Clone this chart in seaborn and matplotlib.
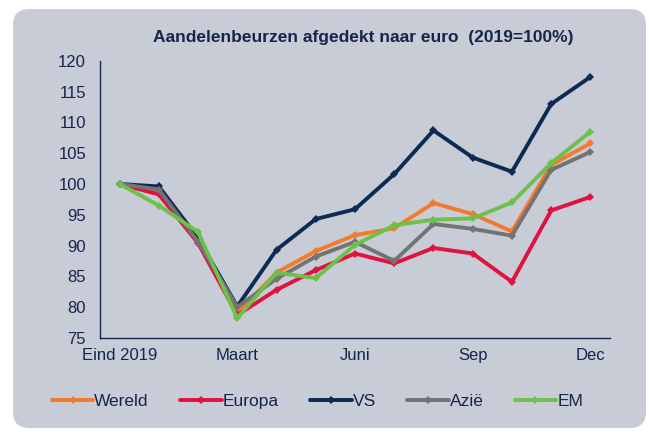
import pandas as pd
import numpy as np
import seaborn as sns
import matplotlib.pyplot as plt
from matplotlib.patches import FancyBboxPatch
from matplotlib.transforms import IdentityTransform

# data (end 2019 = 100)
months = list(range(13))
tick_pos = [0, 3, 6, 9, 12]
tick_labels = ['Eind 2019', 'Maart', 'Juni', 'Sep', 'Dec']

wereld = [100, 98.8, 91.0, 79.0, 85.6, 89.1, 91.7, 92.8, 96.9, 95.1, 92.3, 103.1, 106.6]
europa = [100, 98.3, 90.4, 78.7, 82.8, 86.0, 88.7, 87.1, 89.6, 88.7, 84.1, 95.7, 97.9]
vs = [100, 99.6, 91.2, 80.1, 89.3, 94.3, 95.9, 101.6, 108.7, 104.3, 102.0, 113.0, 117.4]
azie = [100, 99.1, 90.6, 80.0, 84.6, 88.2, 90.6, 87.5, 93.5, 92.7, 91.6, 102.3, 105.2]
em = [100, 96.5, 92.2, 78.2, 85.6, 84.7, 90.1, 93.3, 94.2, 94.4, 97.0, 103.4, 108.5]

series = {'Wereld': wereld, 'Europa': europa, 'VS': vs, 'Azië': azie, 'EM': em}
colors = {'Wereld': '#F47A2C', 'Europa': '#E0123F', 'VS': '#0E2A52',
          'Azië': '#737373', 'EM': '#6DC14B'}

df = pd.concat([pd.DataFrame({'maand': months, 'waarde': v, 'regio': k})
                for k, v in series.items()])

sns.set_style('white')
plt.rcParams['font.family'] = ['Liberation Sans', 'DejaVu Sans']

bg = '#C7CCD7'
navy = '#16254A'

fig = plt.figure(figsize=(6.49, 4.32), dpi=100)
fig.patch.set_facecolor('white')
# rounded panel behind everything, in pixels
fig.patches.append(FancyBboxPatch((13, 4), 633, 419, boxstyle='round,pad=0,rounding_size=16',
                                  transform=IdentityTransform(), facecolor=bg, edgecolor='none', zorder=-10))

ax = fig.add_axes([0.154, 0.218, 0.786, 0.641])
ax.patch.set_alpha(0)

for name in series:
    sns.lineplot(data=df[df['regio'] == name], x='maand', y='waarde', ax=ax,
                 color=colors[name], linewidth=2.8, marker='D', markersize=6,
                 markeredgewidth=0, label=name)

ax.set_xlim(-0.5, 12.5)
ax.set_ylim(75, 120)
ax.set_yticks(np.arange(75, 121, 5))
ax.set_xticks(tick_pos)
ax.set_xticklabels(tick_labels)
ax.set_xticks(np.arange(-0.5, 13, 1), minor=True)
ax.tick_params(axis='x', which='major', length=0, pad=7, labelsize=12, labelcolor=navy)
ax.tick_params(axis='x', which='minor', length=4, color=navy, direction='out')
ax.tick_params(axis='y', length=4, color=navy, direction='out', labelsize=12, labelcolor=navy, pad=6)
ax.set_xlabel('')
ax.set_ylabel('')

for s in ['top', 'right']:
    ax.spines[s].set_visible(False)
for s in ['left', 'bottom']:
    ax.spines[s].set_color(navy)
    ax.spines[s].set_linewidth(1)

fig.text(0.559, 0.914, 'Aandelenbeurzen afgedekt naar euro  (2019=100%)',
         ha='center', va='center', fontsize=12.5, fontweight='bold', color=navy)

handles, labels = ax.get_legend_handles_labels()
for h in handles:
    h.set_markersize(4)
ax.legend(handles, labels, loc='center', bbox_to_anchor=(0.489, 0.07), bbox_transform=fig.transFigure,
          ncol=5, frameon=False, fontsize=12.5, handlelength=2.4, handletextpad=0.05,
          columnspacing=1.8, labelcolor=navy, borderpad=0, borderaxespad=0)

plt.savefig('out.png', dpi=100)
